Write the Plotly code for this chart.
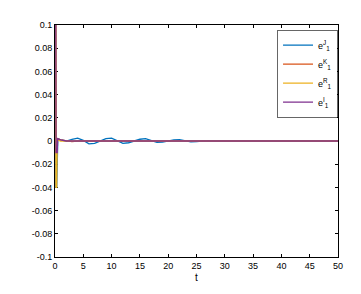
import plotly.graph_objects as go

# e1^J (blue)
tJ = [0.12, 0.16, 0.3, 0.5, 1, 2, 3, 4, 5, 6, 7, 8, 9, 10, 11, 12, 13, 14, 15, 16, 17, 18, 19, 20, 21, 22, 23, 24, 25, 26, 27, 28, 30, 50]
vJ = [0.1, -0.04, -0.04, 0.002, 0.001, 0.0, 0.0015, 0.0025, 0.0005, -0.0025, -0.002, 0.0, 0.002, 0.0025, 0.0005, -0.002, -0.0015, 0.0, 0.0015, 0.002, 0.0005, -0.0012, -0.001, 0.0, 0.001, 0.0012, 0.0, -0.0008, -0.0005, 0.0, 0.0003, 0.0, 0.0, 0.0]
# e1^K (orange)
tK = [0.14, 0.18, 0.4, 0.45, 1, 2, 3, 4, 50]
vK = [0.1, -0.01, -0.01, 0.002, 0.001, 0.0, -0.0005, 0.0, 0.0]
# e1^R (yellow)
tR = [0.12, 0.16, 0.3, 0.4, 1, 50]
vR = [0.1, -0.04, -0.04, 0.001, 0.0, 0.0]
# e1^I (purple)
tI = [0.14, 0.18, 0.4, 0.45, 1, 2, 50]
vI = [0.1, -0.01, -0.01, 0.002, 0.001, 0.0, 0.0]

names = ["e<sup>J</sup><sub>1</sub>", "e<sup>K</sup><sub>1</sub>", "e<sup>R</sup><sub>1</sub>", "e<sup>I</sup><sub>1</sub>"]
colors = ["#0072BD", "#D95319", "#EDB120", "#7E2F8E"]

xticks = [0, 5, 10, 15, 20, 25, 30, 35, 40, 45, 50]
yticks = [0.1, 0.08, 0.06, 0.04, 0.02, 0, -0.02, -0.04, -0.06, -0.08, -0.1]
yticklabels = ["0.1", "0.08", "0.06", "0.04", "0.02", "0", "-0.02", "-0.04", "-0.06", "-0.08", "-0.1"]

fig = go.Figure()
for t, v, n, c in zip([tJ, tK, tR, tI], [vJ, vK, vR, vI], names, colors):
    fig.add_trace(go.Scatter(x=t, y=v, mode="lines", name=n, line=dict(color=c, width=1.3)))

axis_common = dict(showline=True, linecolor="black", linewidth=1, mirror="ticks",
                   ticks="inside", ticklen=3, tickcolor="black", showgrid=False, zeroline=False,
                   layer="below traces",
                   tickfont=dict(size=9, color="black"))
fig.update_xaxes(range=[0, 50], tickvals=xticks, title=dict(text="t", font=dict(size=10, color="black"), standoff=4), **axis_common)
fig.update_yaxes(range=[-0.1, 0.1], tickvals=yticks, ticktext=yticklabels, **axis_common)

fig.update_layout(
    width=353, height=286,
    margin=dict(l=47, r=23, t=17, b=37),
    paper_bgcolor="white", plot_bgcolor="white",
    font=dict(family="Liberation Sans, Arial, sans-serif", size=9, color="black"),
    showlegend=True,
    legend=dict(x=0.998, y=0.978, xanchor="right", yanchor="top", bgcolor="white",
                bordercolor="black", borderwidth=0.6, font=dict(size=9),
                tracegroupgap=0, itemwidth=30),
)
fig.write_html("out.html")
